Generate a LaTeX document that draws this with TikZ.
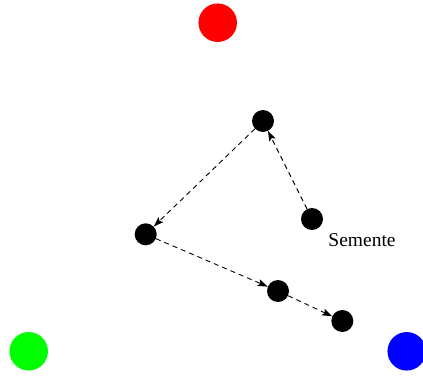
\documentclass[tikz,border=0pt]{standalone}
\usepackage{fontspec}
\setmainfont{Liberation Serif}
\usetikzlibrary{arrows.meta}
\begin{document}
\begin{tikzpicture}[x=1pt,y=-1pt,
  corner/.style={circle,inner sep=0pt,minimum size=38.5pt,draw=none},
  pt/.style={circle,fill=black,inner sep=0pt,minimum size=22pt,draw=none},
  jump/.style={dashed,dash pattern=on 5pt off 4pt,line width=0.9pt,
    -{Stealth[length=10pt,width=7pt,inset=2pt]}}]
  \useasboundingbox (0,0) rectangle (423,375);
  % vertices of the triangle
  \node[corner,fill=red]   (r) at (217.7,22.7) {};
  \node[corner,fill=green] (g) at (28.7,351.3) {};
  \node[corner,fill=blue]  (b) at (406.7,351.3) {};
  % points of the walk
  \node[pt] (p1) at (263,121) {};
  \node[pt] (p0) at (312,219) {};
  \node[pt] (p2) at (145.7,234.3) {};
  \node[pt] (p3) at (278,291) {};
  \node[pt] (p4) at (342.3,321) {};
  \node[font=\fontsize{19.5}{22}\selectfont,anchor=center] (seed) at (362,240) {Semente};
  % moves
  \draw[jump] (p0) -- (p1);
  \draw[jump] (p1) -- (p2);
  \draw[jump] (p2) -- (p3);
  \draw[jump] (p3) -- (p4);
\end{tikzpicture}
\end{document}
